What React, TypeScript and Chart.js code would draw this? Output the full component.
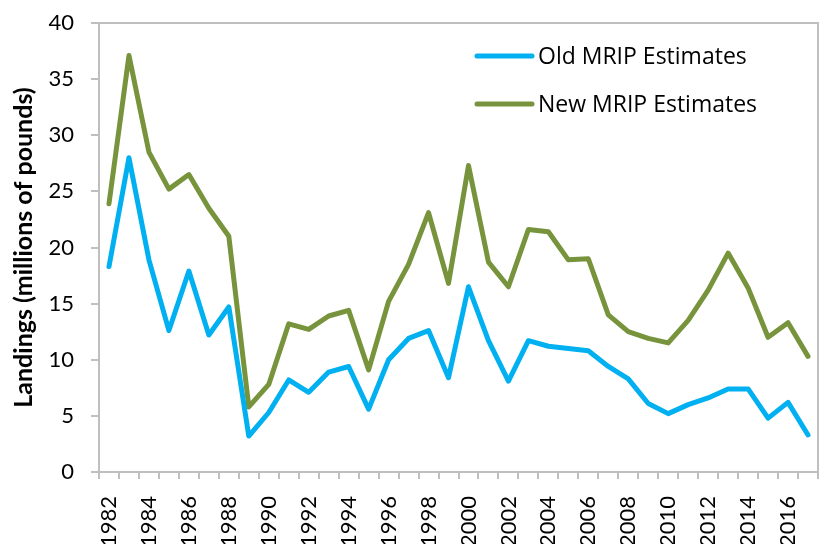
import React, { useEffect, useRef } from "react";
import { Chart, registerables } from "chart.js";

Chart.register(...registerables);

const years: string[] = [
  "1982", "1983", "1984", "1985", "1986", "1987", "1988", "1989", "1990", "1991",
  "1992", "1993", "1994", "1995", "1996", "1997", "1998", "1999", "2000", "2001",
  "2002", "2003", "2004", "2005", "2006", "2007", "2008", "2009", "2010", "2011",
  "2012", "2013", "2014", "2015", "2016", "2017",
];

const oldMrip: number[] = [
  18.3, 28.0, 18.9, 12.6, 17.9, 12.2, 14.7, 3.2, 5.3, 8.2,
  7.1, 8.9, 9.4, 5.6, 10.0, 11.9, 12.6, 8.4, 16.5, 11.7,
  8.1, 11.7, 11.2, 11.0, 10.8, 9.4, 8.3, 6.1, 5.2, 6.0,
  6.6, 7.4, 7.4, 4.8, 6.2, 3.3,
];

const newMrip: number[] = [
  23.9, 37.1, 28.5, 25.2, 26.5, 23.5, 21.0, 5.8, 7.8, 13.2,
  12.7, 13.9, 14.4, 9.1, 15.2, 18.5, 23.1, 16.8, 27.3, 18.7,
  16.5, 21.6, 21.4, 18.9, 19.0, 14.0, 12.5, 11.9, 11.5, 13.5,
  16.2, 19.5, 16.4, 12.0, 13.3, 10.3,
];

const seriesNames: string[] = ["Old MRIP Estimates", "New MRIP Estimates"];
const seriesColors: string[] = ["#00B0F0", "#77933C"];
const yTitle = "Landings (millions of pounds)";

const FONT = "Lato, 'Open Sans', sans-serif";
const LEGEND_FONT = "'Open Sans', Lato, sans-serif";
const AXIS = "#BFBFBF";

const frameAndLegend = {
  id: "frameAndLegend",
  afterDatasetsDraw(chart: any) {
    const { ctx, chartArea } = chart;
    ctx.save();
    ctx.strokeStyle = AXIS;
    ctx.lineWidth = 2;
    ctx.beginPath();
    ctx.moveTo(chartArea.left, chartArea.top);
    ctx.lineTo(chartArea.right, chartArea.top);
    ctx.lineTo(chartArea.right, chartArea.bottom);
    ctx.stroke();

    const x0 = chartArea.left + 378;
    const rows = [chartArea.top + 33, chartArea.top + 81];
    ctx.font = `23px ${LEGEND_FONT}`;
    ctx.textBaseline = "middle";
    ctx.textAlign = "left";
    seriesNames.forEach((name, i) => {
      ctx.strokeStyle = seriesColors[i];
      ctx.lineWidth = 5;
      ctx.lineCap = "round";
      ctx.beginPath();
      ctx.moveTo(x0, rows[i]);
      ctx.lineTo(x0 + 55, rows[i]);
      ctx.stroke();
      ctx.fillStyle = "#000";
      ctx.fillText(name, x0 + 61, rows[i] + 1);
    });
    ctx.restore();
  },
};

export default function App() {
  const ref = useRef<HTMLCanvasElement | null>(null);

  useEffect(() => {
    document.body.style.margin = "0";
    if (!ref.current) return;
    const chart = new Chart(ref.current, {
      type: "line",
      data: {
        labels: years,
        datasets: [
          {
            label: seriesNames[0],
            data: oldMrip,
            borderColor: seriesColors[0],
            backgroundColor: seriesColors[0],
            borderWidth: 5,
            pointRadius: 0,
            borderJoinStyle: "round",
            borderCapStyle: "round",
            tension: 0,
          },
          {
            label: seriesNames[1],
            data: newMrip,
            borderColor: seriesColors[1],
            backgroundColor: seriesColors[1],
            borderWidth: 5,
            pointRadius: 0,
            borderJoinStyle: "round",
            borderCapStyle: "round",
            tension: 0,
          },
        ],
      },
      options: {
        responsive: false,
        animation: false,
        devicePixelRatio: 1,
        layout: { padding: { top: 23, right: 12, left: 0, bottom: 0 } },
        plugins: {
          legend: { display: false },
          tooltip: { enabled: false },
        },
        scales: {
          x: {
            type: "category",
            offset: true,
            grid: {
              offset: true,
              drawOnChartArea: false,
              drawTicks: true,
              tickLength: 7,
              color: AXIS,
              lineWidth: 2,
            },
            border: { color: AXIS, width: 2 },
            ticks: {
              autoSkip: false,
              maxRotation: 90,
              minRotation: 90,
              padding: 17,
              color: "#000",
              font: { family: FONT, size: 22 },
              callback: function (this: any, _v: any, i: number) {
                return i % 2 === 0 ? years[i] : "";
              },
            },
            afterFit(scale: any) {
              scale.height = 72;
              scale.paddingLeft = 0;
              scale.paddingRight = 0;
            },
          },
          y: {
            min: 0,
            max: 40,
            ticks: {
              stepSize: 5,
              padding: 17,
              color: "#000",
              font: { family: FONT, size: 22 },
            },
            grid: {
              drawOnChartArea: false,
              drawTicks: true,
              tickLength: 8,
              color: AXIS,
              lineWidth: 2,
            },
            border: { color: AXIS, width: 2 },
            title: {
              display: true,
              text: yTitle,
              color: "#000",
              font: { family: FONT, size: 25, weight: "bold" },
              padding: { top: 9, bottom: 0 },
            },
            afterFit(scale: any) {
              scale.width = 99;
              scale.paddingTop = 0;
              scale.paddingBottom = 0;
            },
          },
        },
      },
      plugins: [frameAndLegend],
    });
    return () => chart.destroy();
  }, []);

  return <canvas ref={ref} width={830} height={544} style={{ display: "block" }} />;
}
